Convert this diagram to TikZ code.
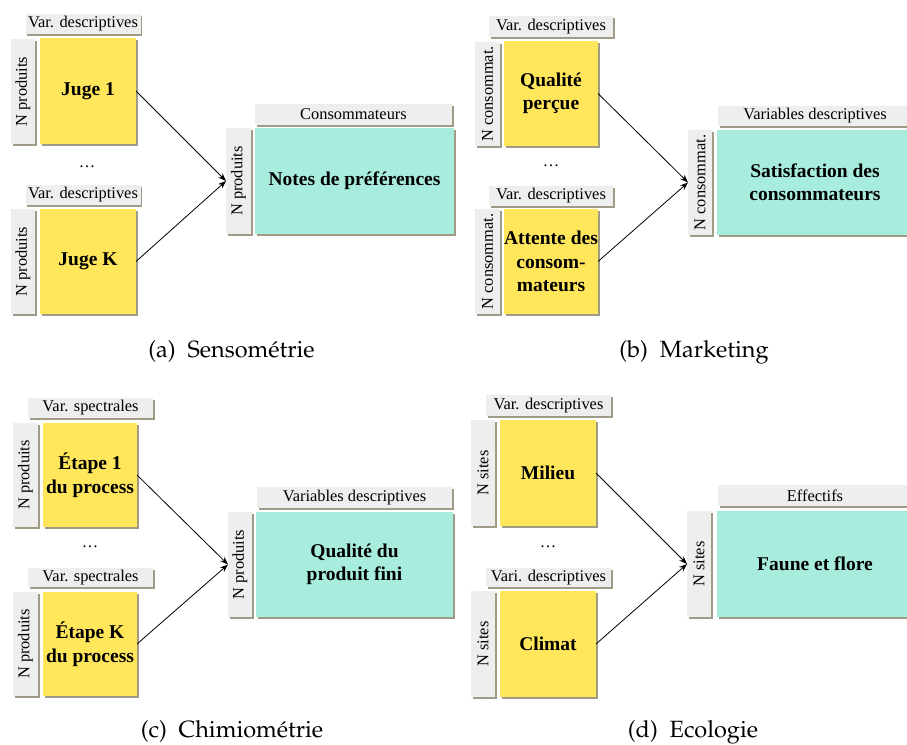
\documentclass[tikz,border=0pt]{standalone}
\usepackage{fontspec}
\usepackage{graphicx}
\setmainfont{Liberation Serif}
\usetikzlibrary{shadows, arrows.meta}
\definecolor{jaune}{RGB}{255,230,90}
\definecolor{turquoise}{RGB}{168,236,222}
\definecolor{grisclair}{RGB}{238,238,238}
\definecolor{grisbord}{RGB}{160,155,135}
\newcommand{\fontlegende}{\fontencoding{T1}\fontfamily{ppl}\fontsize{23.5}{28}\selectfont}
\tikzset{>={Stealth[length=8pt,width=6pt]}}
\tikzset{
  bloc/.style={inner sep=0pt, outer sep=0pt, align=center,
    drop shadow={shadow xshift=1.5pt, shadow yshift=-1.5pt, fill=grisbord, opacity=1}},
  entete/.style={bloc, fill=grisclair, font=\fontsize{16.4}{19}\selectfont},
  cote/.style={bloc, fill=grisclair, font=\fontsize{16.4}{19}\selectfont},
  tableau/.style={bloc, fill=jaune, font=\bfseries\fontsize{19.5}{23.5}\selectfont},
  reponse/.style={bloc, fill=turquoise, font=\bfseries\fontsize{19.5}{23}\selectfont},
  points/.style={anchor=base, font=\fontsize{16.4}{19}\selectfont},
  legende/.style={anchor=base, font=\fontlegende},
  fleche/.style={->, line width=0.8pt}
}
\begin{document}
\begin{tikzpicture}[x=1pt, y=-1pt]
        \useasboundingbox (0, 0) rectangle (907, 744);
        % (a) Sensometrie
        \node (ha1) [entete, minimum width=115pt, minimum height=20pt] at (83, 24) {Var. descriptives};
        \node (sa1) [cote, minimum width=24pt, minimum height=105pt] at (23, 91.5) {\rotatebox{90}{N produits}};
        \node (ta1) [tableau, minimum width=96pt, minimum height=106pt] at (88, 91) {Juge 1};
        \node (pa) [points] at (87, 167) {\dots};
        \node (ha2) [entete, minimum width=115pt, minimum height=20pt] at (83, 195) {Var. descriptives};
        \node (sa2) [cote, minimum width=24pt, minimum height=105pt] at (23, 261.5) {\rotatebox{90}{N produits}};
        \node (ta2) [tableau, minimum width=96pt, minimum height=105pt] at (88, 261.5) {Juge K};
        \node (hra) [entete, minimum width=197pt, minimum height=21pt] at (353.5, 114.5) {Consommateurs};
        \node (sra) [cote, minimum width=25pt, minimum height=106pt] at (238.5, 181) {\rotatebox{90}{N produits}};
        \node (tra) [reponse, minimum width=199pt, minimum height=106pt] at (354.5, 181) {Notes de préférences};
        \draw [fleche] (ta1.east) -- (sra.west);
        \draw [fleche] (ta2.east) -- (sra.west);
        \node (la) [legende] at (231.5, 357) {(a)\hspace{0.5em}Sensométrie};
        % (b) Marketing
        \node (hb1) [entete, minimum width=124pt, minimum height=21pt] at (551, 26.5) {Var. descriptives};
        \node (sb1) [cote, minimum width=25pt, minimum height=104pt] at (487.5, 94) {\rotatebox{90}{N consommat.}};
        \node (tb1) [tableau, minimum width=94pt, minimum height=105pt] at (551, 93.5) {Qualité\\perçue};
        \node (pb) [points] at (551, 166) {\dots};
        \node (hb2) [entete, minimum width=124pt, minimum height=20pt] at (551, 196) {Var. descriptives};
        \node (sb2) [cote, minimum width=25pt, minimum height=105pt] at (487.5, 261.5) {\rotatebox{90}{N consommat.}};
        \node (tb2) [tableau, minimum width=94pt, minimum height=105pt] at (551, 261.5) {Attente des\\consom-\\mateurs};
        \node (hrb) [entete, minimum width=194pt, minimum height=20pt] at (815, 116) {Variables descriptives};
        \node (srb) [cote, minimum width=24pt, minimum height=105pt] at (700, 182.5) {\rotatebox{90}{N consommat.}};
        \node (trb) [reponse, minimum width=196pt, minimum height=105pt] at (815, 182.5) {Satisfaction des\\consommateurs};
        \draw [fleche] (tb1.east) -- (srb.west);
        \draw [fleche] (tb2.east) -- (srb.west);
        \node (lb) [legende] at (694, 357) {(b)\hspace{0.5em}Marketing};
        % (c) Chimiometrie
        \node (hc1) [entete, minimum width=125pt, minimum height=20pt] at (90.5, 408) {Var. spectrales};
        \node (sc1) [cote, minimum width=25pt, minimum height=104pt] at (25.5, 475) {\rotatebox{90}{N produits}};
        \node (tc1) [tableau, minimum width=94pt, minimum height=104pt] at (90, 475) {Étape 1\\du process};
        \node (pc) [points] at (90, 547) {\dots};
        \node (hc2) [entete, minimum width=125pt, minimum height=19pt] at (90.5, 577.5) {Var. spectrales};
        \node (sc2) [cote, minimum width=25pt, minimum height=104pt] at (25.5, 644) {\rotatebox{90}{N produits}};
        \node (tc2) [tableau, minimum width=94pt, minimum height=104pt] at (90, 644) {Étape K\\du process};
        \node (hrc) [entete, minimum width=195pt, minimum height=21pt] at (354.5, 497.5) {Variables descriptives};
        \node (src) [cote, minimum width=24pt, minimum height=105pt] at (240, 564.5) {\rotatebox{90}{N produits}};
        \node (trc) [reponse, minimum width=197pt, minimum height=105pt] at (354.5, 564.5) {Qualité du\\produit fini};
        \draw [fleche] (tc1.east) -- (src.west);
        \draw [fleche] (tc2.east) -- (src.west);
        \node (lc) [legende] at (232, 737) {(c)\hspace{0.5em}Chimiométrie};
        % (d) Ecologie
        \node (hd1) [entete, minimum width=125pt, minimum height=21pt] at (548.5, 405.5) {Var. descriptives};
        \node (sd1) [cote, minimum width=24pt, minimum height=106pt] at (483, 473) {\rotatebox{90}{N sites}};
        \node (td1) [tableau, minimum width=96pt, minimum height=106pt] at (548, 473) {Milieu};
        \node (pd) [points] at (548, 547) {\dots};
        \node (hd2) [entete, minimum width=125pt, minimum height=19pt] at (548.5, 577.5) {Vari. descriptives};
        \node (sd2) [cote, minimum width=24pt, minimum height=106pt] at (483, 644) {\rotatebox{90}{N sites}};
        \node (td2) [tableau, minimum width=96pt, minimum height=106pt] at (548, 644) {Climat};
        \node (hrd) [entete, minimum width=194pt, minimum height=21pt] at (815, 495.5) {Effectifs};
        \node (srd) [cote, minimum width=24pt, minimum height=106pt] at (699, 564) {\rotatebox{90}{N sites}};
        \node (trd) [reponse, minimum width=196pt, minimum height=106pt] at (815, 564) {Faune et flore};
        \draw [fleche] (td1.east) -- (srd.west);
        \draw [fleche] (td2.east) -- (srd.west);
        \node (ld) [legende] at (693, 737) {(d)\hspace{0.5em}Ecologie};
\end{tikzpicture}
\end{document}
